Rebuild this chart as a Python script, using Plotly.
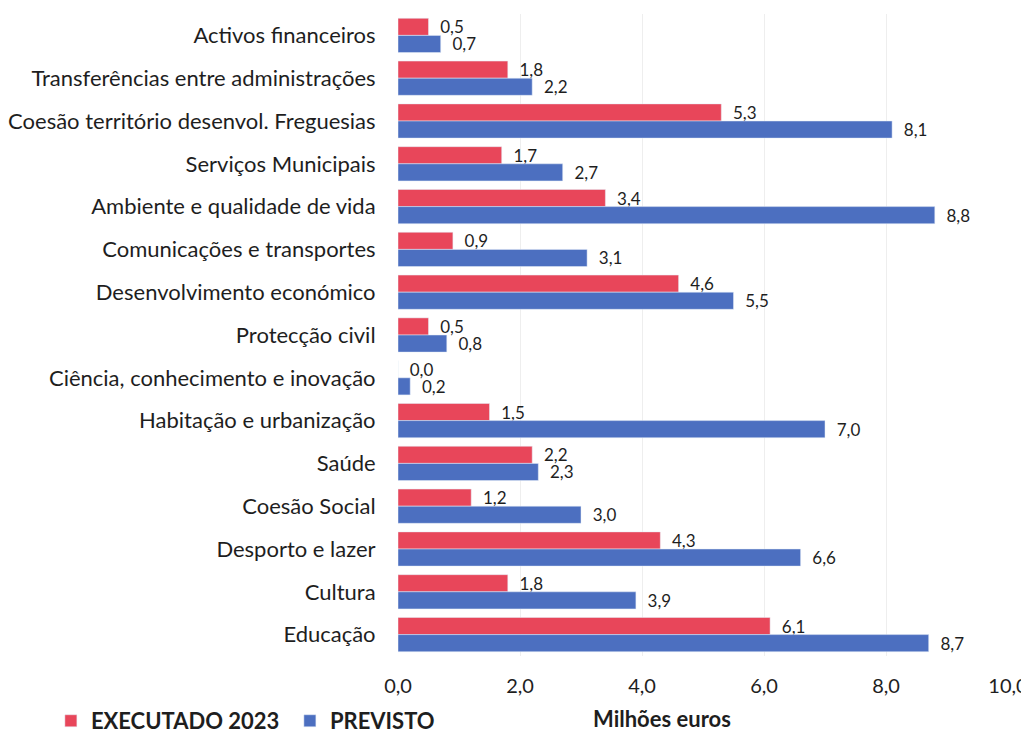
import plotly.graph_objects as go

CATEGORIAS = [
    "Activos financeiros",
    "Transferências entre administrações",
    "Coesão território desenvol. Freguesias",
    "Serviços Municipais",
    "Ambiente e qualidade de vida",
    "Comunicações e transportes",
    "Desenvolvimento económico",
    "Protecção civil",
    "Ciência, conhecimento e inovação",
    "Habitação e urbanização",
    "Saúde",
    "Coesão Social",
    "Desporto e lazer",
    "Cultura",
    "Educação",
]
EXECUTADO = [0.5, 1.8, 5.3, 1.7, 3.4, 0.9, 4.6, 0.5, 0.0, 1.5, 2.2, 1.2, 4.3, 1.8, 6.1]
PREVISTO = [0.7, 2.2, 8.1, 2.7, 8.8, 3.1, 5.5, 0.8, 0.2, 7.0, 2.3, 3.0, 6.6, 3.9, 8.7]
TICKS = [0, 2, 4, 6, 8, 10]

FONT = "Lato"
RED = "#E8465A"
BLUE = "#4C6FC0"
INK = "#1e1e1e"
PAD = "\u00a0\u00a0"  # afastamento do rótulo em relação à barra

fig = go.Figure()
for nome, valores, cor in (("EXECUTADO 2023", EXECUTADO, RED),
                           ("PREVISTO", PREVISTO, BLUE)):
    fig.add_bar(y=CATEGORIAS, x=valores, name=nome, orientation="h",
                marker_color=cor, texttemplate=PAD + "%{x:.1f}",
                textposition="outside", constraintext="none", cliponaxis=False,
                textfont=dict(size=17, color=INK, family=FONT))

fig.add_annotation(text="Milhões euros", xref="paper", yref="paper",
                   x=0.433, y=-0.097, xanchor="center", yanchor="middle",
                   showarrow=False, font=dict(size=22, weight="bold", color=INK))

# a página tem 8 px de margem no body: figura um pouco mais pequena
fig.update_layout(
    width=1021, height=729,
    paper_bgcolor="white", plot_bgcolor="white",
    separators=",.",
    barmode="group", bargap=0.2, bargroupgap=0,
    margin=dict(l=390, r=21, t=6, b=81, autoexpand=False),
    font=dict(family=FONT, color=INK, size=20),
    xaxis=dict(range=[0, 10], tickvals=TICKS, tickformat=".1f",
               showgrid=True, gridcolor="#eeeeee", gridwidth=1,
               zeroline=False, showline=False, automargin=False,
               ticks="outside", ticklen=12, tickcolor="rgba(0,0,0,0)",
               tickfont=dict(size=20)),
    yaxis=dict(autorange="reversed", showgrid=False, zeroline=False,
               showline=False, automargin=False, ticks="outside", ticklen=17,
               tickcolor="rgba(0,0,0,0)", tickfont=dict(size=22)),
    legend=dict(orientation="h", xref="container", yref="container",
                x=0.042, xanchor="left", y=0.022, yanchor="middle",
                font=dict(size=22, weight="bold"), traceorder="normal",
                itemwidth=30, entrywidth=194, entrywidthmode="pixels"),
    showlegend=True,
)

fig.write_html("out.html")
